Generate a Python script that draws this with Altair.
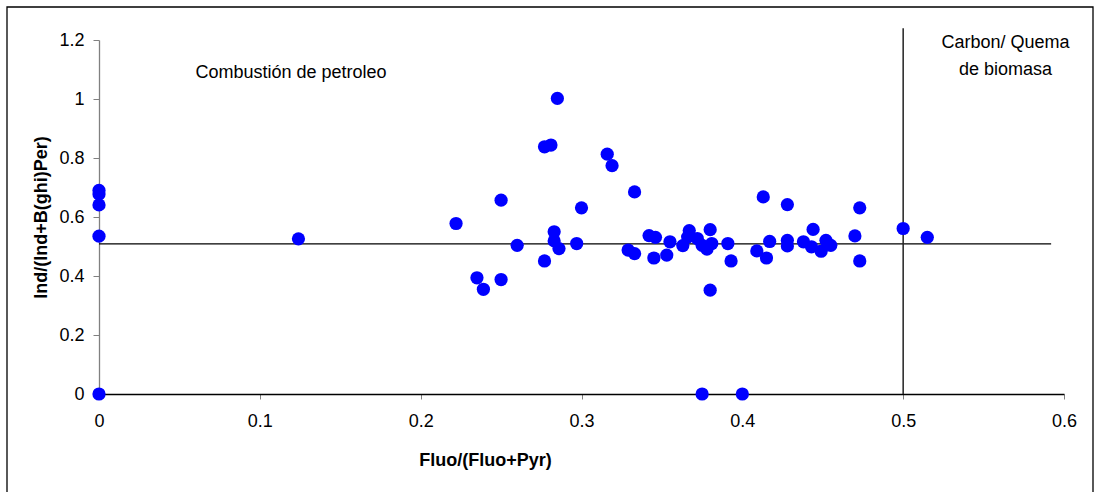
import altair as alt
import pandas as pd

# Fluo/(Fluo+Pyr) ratios
fluo_ratio = [
    0.0, 0.0, 0.0, 0.0, 0.0,
    0.124, 0.222, 0.235, 0.239, 0.250, 0.250, 0.260,
    0.277, 0.281, 0.277, 0.283, 0.283, 0.285, 0.286, 0.297, 0.300,
    0.316, 0.319, 0.329, 0.333, 0.333, 0.342, 0.346, 0.345, 0.353, 0.355,
    0.363, 0.366, 0.367, 0.372, 0.375, 0.378, 0.380, 0.381, 0.380,
    0.375, 0.400, 0.391, 0.393,
    0.409, 0.413, 0.415, 0.417, 0.428, 0.428, 0.428, 0.438, 0.444, 0.443,
    0.449, 0.452, 0.455, 0.470, 0.473, 0.473, 0.500, 0.515,
]
# Ind/(Ind+B(ghi)Per) ratios
ind_ratio = [
    0.690, 0.678, 0.641, 0.535, 0.0,
    0.526, 0.578, 0.394, 0.355, 0.657, 0.388, 0.504,
    0.838, 0.844, 0.451, 0.550, 0.519, 1.002, 0.493, 0.510, 0.631,
    0.813, 0.774, 0.488, 0.685, 0.476, 0.537, 0.531, 0.461, 0.471, 0.516,
    0.503, 0.532, 0.554, 0.527, 0.504, 0.491, 0.557, 0.510, 0.352,
    0.0, 0.0, 0.510, 0.451,
    0.485, 0.668, 0.461, 0.517, 0.642, 0.521, 0.502, 0.516, 0.558, 0.499,
    0.484, 0.521, 0.504, 0.536, 0.451, 0.631, 0.561, 0.531,
]

x_ticks = [0, 0.1, 0.2, 0.3, 0.4, 0.5, 0.6]
y_ticks = [0, 0.2, 0.4, 0.6, 0.8, 1.0, 1.2]

# Threshold lines
h_line_y = [0.509]
h_line_x = [0.0]
h_line_x2 = [0.592]
v_line_x = [0.5]
v_line_y = [0.0]
v_line_y2 = [1.24]

# Region labels
label_text = ["Combustión de petroleo", "Carbon/ Quema", "de biomasa"]
label_x = [0.060, 0.5636, 0.5636]
label_y = [1.088, 1.19, 1.098]
label_align = ["left", "center", "center"]

FONT = "Liberation Sans"
FS = 18

pts = pd.DataFrame({"fluo": fluo_ratio, "ind": ind_ratio})
hl = pd.DataFrame({"x": h_line_x, "x2": h_line_x2, "y": h_line_y})
vl = pd.DataFrame({"x": v_line_x, "y": v_line_y, "y2": v_line_y2})
labels = pd.DataFrame({"t": label_text, "x": label_x, "y": label_y, "a": label_align})

xscale = alt.Scale(domain=[0, 0.6], nice=False, zero=False)
yscale = alt.Scale(domain=[0, 1.2], nice=False, zero=False)

x_axis = alt.Axis(
    values=x_ticks, format="~g", grid=False, labelFlush=False, labelOverlap=False,
    domainColor="black", domainWidth=1.3, tickColor="#808080", tickSize=5,
    labelFont=FONT, labelFontSize=FS, labelColor="black", labelPadding=13,
    title="Fluo/(Fluo+Pyr)", titleFont=FONT, titleFontSize=FS, titleFontWeight="bold",
    titleColor="black", titleX=386, titleY=66, titleAlign="center", titleBaseline="middle",
)
y_axis = alt.Axis(
    values=y_ticks, format="~g", grid=False, labelFlush=False, labelOverlap=False,
    domainColor="#808080", domainWidth=1.3, tickColor="#808080", tickSize=6,
    labelFont=FONT, labelFontSize=FS, labelColor="black", labelPadding=9,
    title="Ind/(Ind+B(ghi)Per)", titleFont=FONT, titleFontSize=FS, titleFontWeight="bold",
    titleColor="black", titleX=-58, titleY=177, titleAlign="center", titleBaseline="middle",
)

# Outer frame around the whole figure
frame = alt.Chart(pd.DataFrame({"k": [0]})).mark_rect(
    fill=None, stroke="black", strokeWidth=1.3
).encode(
    x=alt.value(-92), x2=alt.value(994), y=alt.value(-33), y2=alt.value(470)
)

points = alt.Chart(pts).mark_circle(size=175, color="#0000FF", opacity=1).encode(
    x=alt.X("fluo:Q", scale=xscale, axis=x_axis),
    y=alt.Y("ind:Q", scale=yscale, axis=y_axis),
)

hrule = alt.Chart(hl).mark_rule(color="black", strokeWidth=1.4).encode(
    x=alt.X("x:Q", scale=xscale), x2="x2:Q", y=alt.Y("y:Q", scale=yscale)
)
vrule = alt.Chart(vl).mark_rule(color="#222222", strokeWidth=1.5, clip=False).encode(
    x=alt.X("x:Q", scale=xscale), y=alt.Y("y:Q", scale=yscale), y2="y2:Q"
)

text_left = alt.Chart(labels[labels["a"] == "left"]).mark_text(
    align="left", baseline="middle", font=FONT, fontSize=FS, color="black"
).encode(x=alt.X("x:Q", scale=xscale), y=alt.Y("y:Q", scale=yscale), text="t:N")
text_center = alt.Chart(labels[labels["a"] == "center"]).mark_text(
    align="center", baseline="middle", font=FONT, fontSize=FS, color="black", clip=False
).encode(x=alt.X("x:Q", scale=xscale), y=alt.Y("y:Q", scale=yscale), text="t:N")

chart = alt.layer(frame, hrule, vrule, points, text_left, text_center).properties(
    width=965, height=354,
    autosize=alt.AutoSizeParams(type="none"),
    padding={"left": 99, "top": 40, "right": 31, "bottom": 98},
    background="white",
).configure_view(stroke=None)

chart.save("out.html", embed_options={"renderer": "svg", "actions": False})
